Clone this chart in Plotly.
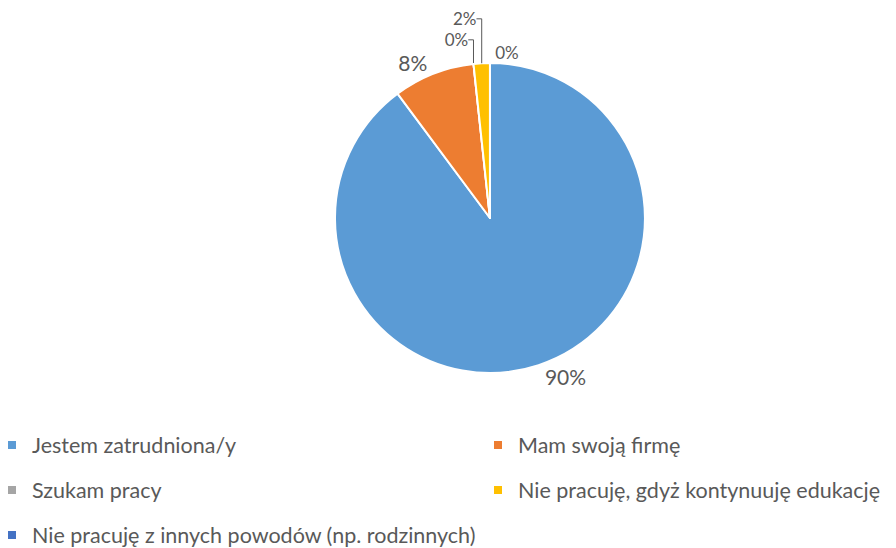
import plotly.graph_objects as go

labels = [
    "Jestem zatrudniona/y",
    "Mam swoją firmę",
    "Szukam pracy",
    "Nie pracuję, gdyż kontynuuję edukację",
    "Nie pracuję z innych powodów (np. rodzinnych)",
]
values = [106, 10, 0, 2, 0]
colors = ["#5B9BD5", "#ED7D31", "#A5A5A5", "#FFC000", "#4472C4"]

FONT = "Lato"
GREY = "#595959"

fig = go.Figure()
fig.add_trace(
    go.Pie(
        labels=labels,
        values=values,
        sort=False,
        direction="clockwise",
        rotation=0,
        marker=dict(colors=colors, line=dict(color="white", width=2)),
        textposition="outside",
        texttemplate="%{percent:.0%}",
        textfont=dict(size=[21, 21, 17, 17, 17], color=GREY, family=FONT),
        domain=dict(x=[0.3649, 0.7109], y=[0.334, 0.8996]),
        hoverinfo="label+percent",
        showlegend=False,
    )
)

# legend entries (one legend per entry, laid out in two columns)
legend_names = ["legend", "legend2", "legend3", "legend4", "legend5"]
legend_pos = [(-16, 437), (470, 437), (-16, 482), (470, 482), (-16, 527)]
for lab, col, lname in zip(labels, colors, legend_names):
    fig.add_trace(
        go.Scatter(
            x=[None], y=[None], mode="markers", name=lab,
            marker=dict(symbol="square", size=8, color=col),
            legend=lname, showlegend=True, hoverinfo="skip",
        )
    )

legend_layout = {}
for lname, (lx, ly) in zip(legend_names, legend_pos):
    legend_layout[lname] = dict(
        x=lx / 896, xanchor="left",
        y=1 - ly / 548, yanchor="middle",
        orientation="h",
        font=dict(size=21.5, color=GREY, family=FONT),
        itemwidth=30,
        bgcolor="rgba(0,0,0,0)",
    )

fig.update_layout(
    width=896,
    height=548,
    margin=dict(l=0, r=0, t=0, b=0, autoexpand=False),
    paper_bgcolor="white",
    plot_bgcolor="white",
    font=dict(family=FONT, color=GREY),
    xaxis=dict(visible=False),
    yaxis=dict(visible=False),
    **legend_layout,
)

fig.write_html("out.html")
